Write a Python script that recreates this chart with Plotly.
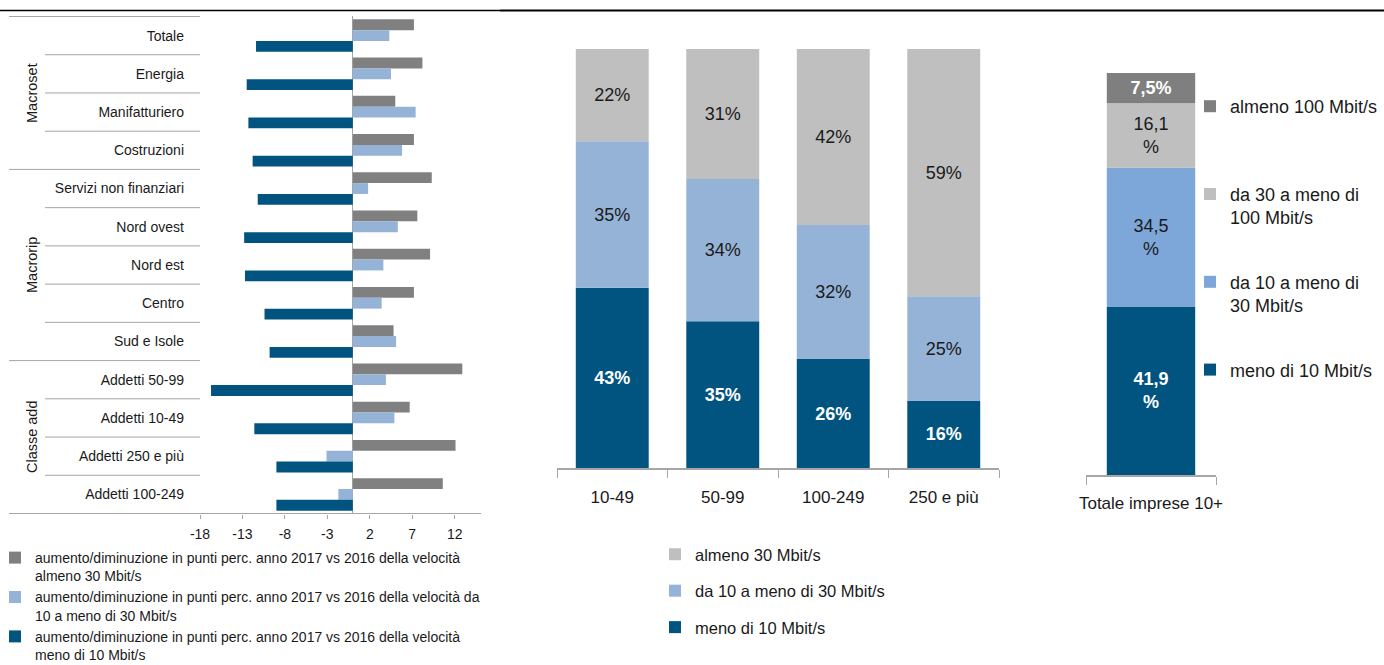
import plotly.graph_objects as go
import numpy as np

# ---------------- data ----------------
# Left panel: change in percentage points 2017 vs 2016
left_categories = ["Totale", "Energia", "Manifatturiero", "Costruzioni",
                   "Servizi non finanziari", "Nord ovest", "Nord est", "Centro",
                   "Sud e Isole", "Addetti 50-99", "Addetti 10-49",
                   "Addetti 250 e più", "Addetti 100-249"]
delta_almeno30 = [7.2, 8.2, 5.0, 7.2, 9.3, 7.6, 9.1, 7.2, 4.8, 12.9, 6.7, 12.1, 10.6]
delta_10_30 = [4.3, 4.5, 7.4, 5.8, 1.8, 5.3, 3.6, 3.4, 5.1, 3.9, 4.9, -3.1, -1.7]
delta_meno10 = [-11.4, -12.5, -12.3, -11.8, -11.2, -12.8, -12.7, -10.4, -9.8, -16.7, -11.6, -9.0, -9.0]
left_groups = ["Macroset", "Macrorip", "Classe add"]
left_group_sizes = [4, 5, 4]
left_ticks = [-18, -13, -8, -3, 2, 7, 12]
left_names = [
    "aumento/diminuzione in punti perc. anno 2017 vs 2016 della velocità<br>almeno 30 Mbit/s",
    "aumento/diminuzione in punti perc. anno 2017 vs 2016 della velocità da<br>10 a meno di 30 Mbit/s",
    "aumento/diminuzione in punti perc. anno 2017 vs 2016 della velocità<br>meno di 10 Mbit/s",
]

# Middle panel: share by size class (%)
mid_categories = ["10-49", "50-99", "100-249", "250 e più"]
mid_meno10 = [43, 35, 26, 16]
mid_10_30 = [35, 34, 32, 25]
mid_almeno30 = [22, 31, 42, 59]
mid_names = ["meno di 10 Mbit/s", "da 10 a meno di 30 Mbit/s", "almeno 30 Mbit/s"]

# Right panel: total firms 10+ (%)
right_category = ["Totale imprese 10+"]
right_meno10 = [41.9]
right_10_30 = [34.5]
right_30_100 = [16.1]
right_almeno100 = [7.5]
right_names = ["meno di 10 Mbit/s", "da 10 a meno di<br>30 Mbit/s",
               "da 30 a meno di<br>100 Mbit/s", "almeno 100 Mbit/s<br> "]

# ---------------- style ----------------
W, H = 1384, 665
DARK_BLUE = "#00547F"
LIGHT_BLUE = "#95B3D7"
LIGHT_BLUE2 = "#7DA7D9"
GRAY = "#808080"
LIGHT_GRAY = "#BFBFBF"
AXIS_GRAY = "#A6A6A6"
TXT = "#1a1a1a"
REG = "Liberation Sans, Arial, sans-serif"


def px_x(p):
    return p / W


def px_y(p):
    return 1 - p / H


fig = go.Figure()

# ---- left panel (grouped horizontal bars) ----
for vals, col, name in [(delta_almeno30, GRAY, left_names[0]),
                        (delta_10_30, LIGHT_BLUE, left_names[1]),
                        (delta_meno10, DARK_BLUE, left_names[2])]:
    fig.add_trace(go.Bar(
        x=vals, y=left_categories, orientation="h", name=name,
        marker=dict(color=col, line=dict(width=0)),
        xaxis="x", yaxis="y", legend="legend", legendgroup=name,
        hoverinfo="x+y"))


def seg_text(v, bold):
    s = f"{v}%"
    return f"<b>{s}</b>" if bold else s


def stack_traces(cats, series, xa, ya, leg, group, width):
    base = np.zeros(len(cats))
    nser = len(series)
    for i, (vals, col, name, tcol, bold, fmt) in enumerate(series):
        fig.add_trace(go.Bar(
            x=cats, y=vals, base=base.copy(), name=name,
            marker=dict(color=col, line=dict(width=0)),
            text=[fmt(v, bold) for v in vals], textposition="inside",
            insidetextanchor="middle", textangle=0,
            textfont=dict(color=tcol, size=18, family=REG),
            offsetgroup=group, width=width, legendrank=1000 + nser - i,
            xaxis=xa, yaxis=ya, legend=leg, legendgroup=group + name))
        base = base + np.array(vals, dtype=float)


# ---- middle panel (stacked) ----
stack_traces(mid_categories,
             [(mid_meno10, DARK_BLUE, mid_names[0], "white", True, seg_text),
              (mid_10_30, LIGHT_BLUE, mid_names[1], TXT, False, seg_text),
              (mid_almeno30, LIGHT_GRAY, mid_names[2], TXT, False, seg_text)],
             "x2", "y2", "legend2", "mid", 0.66)


def right_text(v, bold):
    s = f"{v:.1f}".replace(".", ",")
    s = s + "%" if v < 10 else s + "<br>%"
    return f"<b>{s}</b>" if bold else s


# ---- right panel (stacked) ----
stack_traces(right_category,
             [(right_meno10, DARK_BLUE, right_names[0], "white", True, right_text),
              (right_10_30, LIGHT_BLUE2, right_names[1], TXT, False, right_text),
              (right_30_100, LIGHT_GRAY, right_names[2], TXT, False, right_text),
              (right_almeno100, "#7F7F7F", right_names[3], "white", True, right_text)],
             "x3", "y3", "legend3", "tot", 0.68)

# ---- decorations for left panel ----
shapes = []
n = len(left_categories)
group_bounds = [0]
for s in left_group_sizes:
    group_bounds.append(group_bounds[-1] + s)
for k in range(n):
    x0 = px_x(9) if k in group_bounds else px_x(45)
    shapes.append(dict(type="line", xref="paper", yref="y", x0=x0, x1=px_x(200),
                       y0=k - 0.5, y1=k - 0.5, line=dict(color=AXIS_GRAY, width=1)))
shapes.append(dict(type="line", xref="paper", yref="y", x0=px_x(9), x1=px_x(481),
                   y0=n - 0.5, y1=n - 0.5, line=dict(color=AXIS_GRAY, width=1)))
# top rule
shapes.append(dict(type="line", xref="paper", yref="paper", x0=0, x1=px_x(500),
                   y0=px_y(10.5), y1=px_y(10.5), line=dict(color="black", width=1.3)))
shapes.append(dict(type="line", xref="paper", yref="paper", x0=px_x(500), x1=1,
                   y0=px_y(10.5), y1=px_y(10.5), line=dict(color="black", width=2.2)))

annotations = []
for g, (a, b) in zip(left_groups, zip(group_bounds[:-1], group_bounds[1:])):
    annotations.append(dict(text=g, xref="paper", yref="y", x=px_x(22),
                            y=(a + b - 1) / 2, showarrow=False, textangle=-90,
                            font=dict(size=14.5, family=REG, color=TXT)))

fig.update_layout(
    width=W, height=H,
    margin=dict(l=0, r=0, t=0, b=0, autoexpand=False),
    paper_bgcolor="white", plot_bgcolor="white",
    barmode="group", bargap=0.15, bargroupgap=0,
    showlegend=True,
    shapes=shapes, annotations=annotations,
    font=dict(family=REG, color=TXT),
    xaxis=dict(domain=[px_x(200), px_x(481)], range=[-18, 15.1], anchor="y",
               tickvals=left_ticks, ticktext=[str(v) for v in left_ticks],
               showgrid=False, zeroline=True,
               zerolinecolor=AXIS_GRAY, zerolinewidth=1, showline=False,
               ticks="outside", ticklen=4, tickcolor=AXIS_GRAY, ticklabelstandoff=3,
               tickfont=dict(size=14, family=REG, color=TXT)),
    yaxis=dict(domain=[px_y(514), px_y(16)], anchor="x", autorange="reversed",
               showgrid=False, showline=False, ticks="", ticklabelstandoff=15,
               tickfont=dict(size=14, family=REG, color=TXT)),
    xaxis2=dict(domain=[px_x(557), px_x(999)], anchor="y2", showgrid=False,
                showline=True, linecolor=AXIS_GRAY, linewidth=1.5,
                ticks="outside", tickson="boundaries", ticklen=8, tickcolor=AXIS_GRAY,
                ticklabelstandoff=13,
                tickfont=dict(size=17, family=REG, color=TXT)),
    yaxis2=dict(domain=[px_y(468), px_y(49)], anchor="x2", range=[0, 100],
                visible=False),
    xaxis3=dict(domain=[px_x(1086), px_x(1216)], anchor="y3", showgrid=False,
                showline=True, linecolor=AXIS_GRAY, linewidth=1.5, tickangle=0,
                ticks="outside", tickson="boundaries", ticklen=8, tickcolor=AXIS_GRAY,
                ticklabelstandoff=12,
                tickfont=dict(size=17, family=REG, color=TXT)),
    yaxis3=dict(domain=[px_y(475), px_y(73)], anchor="x3", range=[0, 100],
                visible=False),
    legend=dict(x=px_x(-5), y=px_y(671), xanchor="left", yanchor="bottom",
                traceorder="grouped",
                font=dict(size=14, family=REG, color=TXT), valign="top",
                tracegroupgap=0, bgcolor="rgba(0,0,0,0)"),
    legend2=dict(x=px_x(655), y=px_y(537), xanchor="left", yanchor="top",
                 traceorder="grouped", valign="middle",
                 font=dict(size=16.5, family=REG, color=TXT),
                 tracegroupgap=12, bgcolor="rgba(0,0,0,0)"),
    legend3=dict(x=px_x(1190), y=px_y(88), xanchor="left", yanchor="top",
                 traceorder="grouped", valign="top",
                 font=dict(size=18, family=REG, color=TXT),
                 tracegroupgap=38, bgcolor="rgba(0,0,0,0)"),
)

fig.write_html("out.html", config={"displayModeBar": False},
               post_script="document.body.style.margin='0';document.body.style.overflow='hidden';")
